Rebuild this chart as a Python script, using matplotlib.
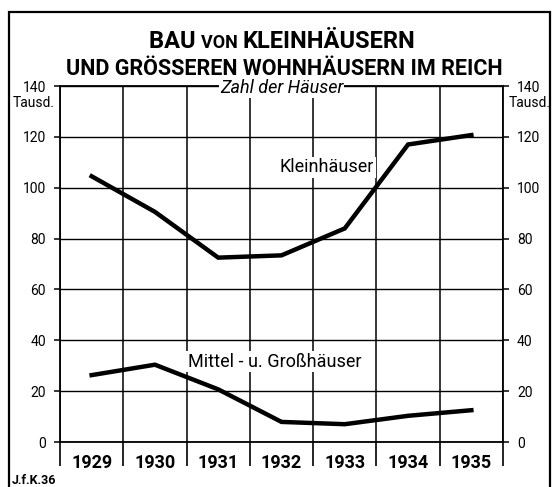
import matplotlib.pyplot as plt
from matplotlib.patches import Rectangle

years = ["1929", "1930", "1931", "1932", "1933", "1934", "1935"]
klein = [104.5, 90.5, 72.5, 73.4, 84, 117, 120.7]
mittel = [26.3, 30.4, 20.7, 7.9, 7.0, 10.3, 12.5]
yticks = [0, 20, 40, 60, 80, 100, 120, 140]

plt.rcParams['font.family'] = ['Roboto', 'DejaVu Sans']

fig = plt.figure(figsize=(5.53, 4.87), dpi=100)
W, H = 553, 487
ax = fig.add_axes([60 / W, 1 - 442 / H, 443 / W, 356 / H])

x = list(range(len(years)))
ax.plot(x, klein, color='black', lw=3.2, solid_joinstyle='miter', zorder=4)
ax.plot(x, mittel, color='black', lw=3.2, solid_joinstyle='miter', zorder=4)

ax.set_xlim(-0.5, len(years) - 0.5)
ax.set_ylim(0, 140)

# year labels in the middle of each column, separators at the boundaries
ax.set_xticks(x)
ax.set_xticklabels(years, fontsize=13, fontweight='bold')
ax.set_xticks([i - 0.5 for i in range(len(years) + 1)], minor=True)
ax.tick_params(axis='x', which='major', length=0, pad=9)
ax.tick_params(axis='x', which='minor', length=17, width=1.2, direction='out')
ax.grid(True, which='minor', axis='x', color='black', lw=1.1)

ax.set_yticks(yticks)
ax.set_yticklabels([str(v) for v in yticks], fontsize=10)
ax.tick_params(axis='y', which='major', length=4, width=1.1, pad=6,
               left=True, right=True, labelleft=True, labelright=True)
ax.grid(True, which='major', axis='y', color='black', lw=1.0)
ax.set_axisbelow(True)
for s in ax.spines.values():
    s.set_linewidth(1.3)

for xa, ha, off in [(0, 'right', -4), (1, 'left', 4)]:
    ax.annotate("Tausd.", xy=(xa, 133.5), xycoords=('axes fraction', 'data'),
                xytext=(off, 0), textcoords='offset points',
                ha=ha, va='center', fontsize=10)

ax.text(3.72, 108, "Kleinhäuser", ha='center', va='center', fontsize=13,
        bbox=dict(fc='white', ec='none', pad=1), zorder=3)
ax.text(2.89, 31.6, "Mittel - u. Großhäuser", ha='center', va='center', fontsize=13,
        bbox=dict(fc='white', ec='none', pad=1), zorder=3)
ax.text(0.50, 0.995, "Zahl der Häuser", transform=ax.transAxes, ha='center',
        va='center', fontsize=13, style='italic',
        bbox=dict(fc='white', ec='none', pad=0.5), zorder=5)

# title line 1, "von" in small capitals
fig.canvas.draw()
r = fig.canvas.get_renderer()
parts = [("BAU ", 17), ("VON ", 13), ("KLEINHÄUSERN", 17)]
texts = [fig.text(0, 1 - 48 / H, s, fontsize=fs, fontweight='bold', va='baseline')
         for s, fs in parts]
widths = [t.get_window_extent(r).width for t in texts]
x0 = 282 - sum(widths) / 2
for t, w in zip(texts, widths):
    t.set_position((x0 / W, 1 - 48 / H))
    x0 += w
fig.text(284 / W, 1 - 69 / H, "UND GRÖSSEREN WOHNHÄUSERN IM REICH",
         fontsize=15.5, fontweight='bold', ha='center', va='center')

fig.text(12 / W, 1 - 481 / H, "J.f.K.36", fontsize=9, fontweight='bold',
         ha='left', va='center')

fig.patches.append(Rectangle((9 / W, -0.05), 541 / W, 1.05 - 12 / H,
                             transform=fig.transFigure, fill=False,
                             ec='black', lw=1.6))

fig.savefig("out.png", dpi=100)
